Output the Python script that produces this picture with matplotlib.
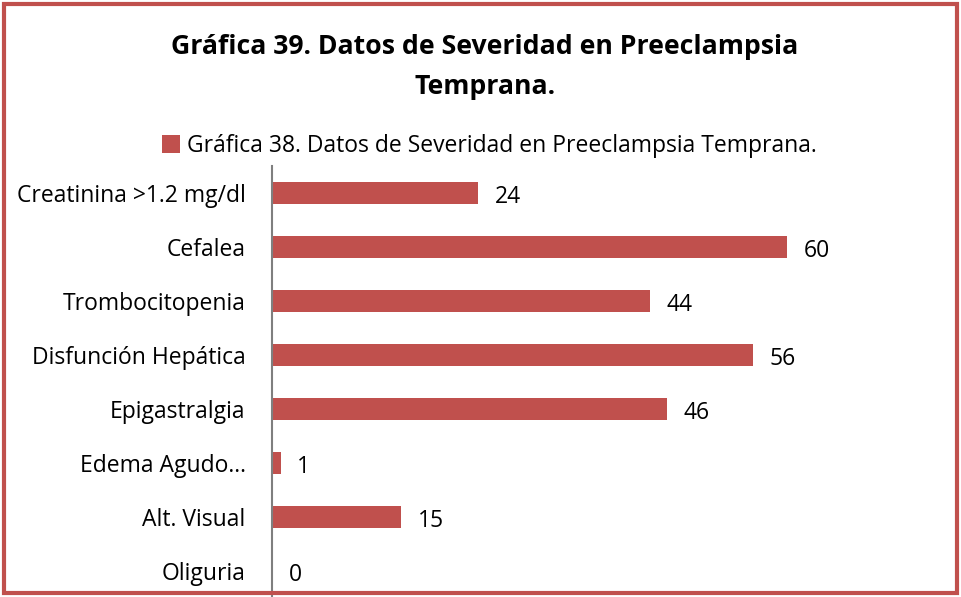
import matplotlib.pyplot as plt
from matplotlib.patches import Rectangle

# datos de severidad (de arriba hacia abajo)
categorias = ["Creatinina >1.2 mg/dl", "Cefalea", "Trombocitopenia",
              "Disfunción Hepática", "Epigastralgia", "Edema Agudo…",
              "Alt. Visual", "Oliguria"]
valores = [24, 60, 44, 56, 46, 1, 15, 0]
serie = "Gráfica 38. Datos de Severidad en Preeclampsia Temprana."
titulo = "Gráfica 39. Datos de Severidad en Preeclampsia\nTemprana."

color_barra = "#C0504D"
plt.rcParams['font.family'] = ['Open Sans', 'DejaVu Sans']

W, H = 961, 597
fig = plt.figure(figsize=(W / 100, H / 100), dpi=100)

# área del gráfico en píxeles
x0, x1 = 272, 873
y_top, y_bot = 166, 598
ax = fig.add_axes([x0 / W, 1 - y_bot / H, (x1 - x0) / W, (y_bot - y_top) / H])

pos = list(range(len(categorias)))
ax.barh(pos, valores, height=0.4, color=color_barra, label=serie)
ax.set_ylim(len(categorias) - 0.5, -0.5)
ax.set_xlim(0, 70)
ax.set_yticks(pos)
ax.set_yticklabels(categorias, fontsize=16.5)
ax.tick_params(axis='y', length=0, pad=19)
ax.set_xticks([])
for s in ["top", "right", "bottom"]:
    ax.spines[s].set_visible(False)
ax.spines["left"].set_color("#7F7F7F")
ax.spines["left"].set_linewidth(1.5)

for p, v in zip(pos, valores):
    ax.annotate(str(v), (v, p), xytext=(12, -3), textcoords="offset points",
                va="center", ha="left", fontsize=16.5)

fig.text(485 / W, 1 - 67 / H, titulo, ha="center", va="center",
         fontsize=19.2, fontweight="bold", linespacing=1.75)

fig.legend(loc="center", bbox_to_anchor=(489 / W, 1 - 146 / H), frameon=False,
           fontsize=16.5, handlelength=0.8, handleheight=0.8, handletextpad=0.3)

# marco del gráfico
fig.patches.append(Rectangle((4 / W, 4 / H), (W - 8) / W, (H - 8) / H,
                             transform=fig.transFigure, fill=False,
                             edgecolor=color_barra, linewidth=3))

fig.savefig("out.png", dpi=100)
